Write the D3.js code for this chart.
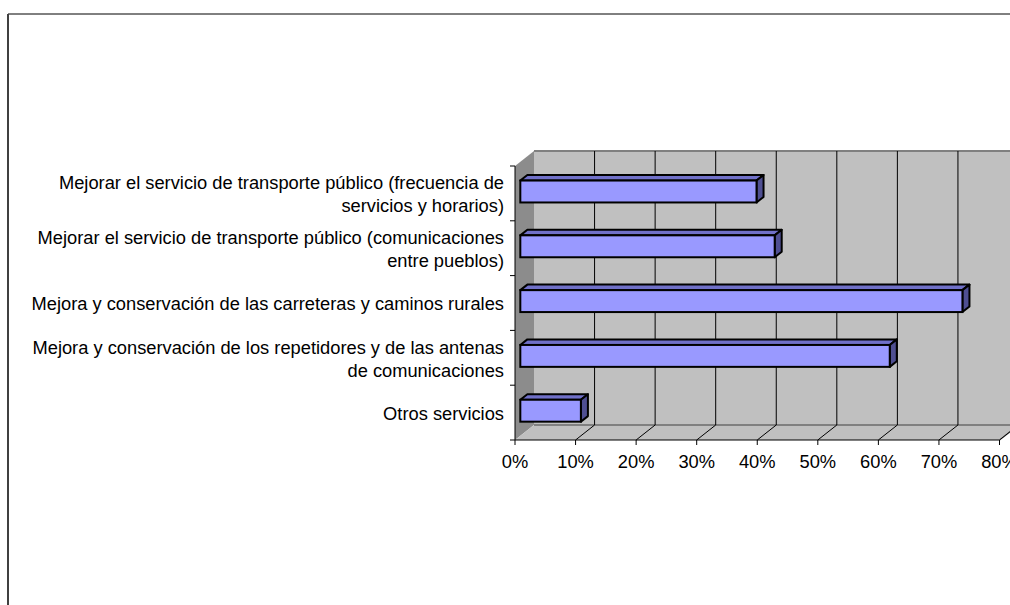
<!DOCTYPE html>
<html><head><meta charset="utf-8">
<script src="https://cdn.jsdelivr.net/npm/d3@7"></script>
<style>
body{margin:0;background:#fff;overflow:hidden}
svg{display:block}
text{font-family:"Liberation Sans",Arial,sans-serif;fill:#000}
</style></head>
<body><svg id="c" width="1010" height="605"></svg>
<script>
const categories = [
  "Mejorar el servicio de transporte público (frecuencia de servicios y horarios)",
  "Mejorar el servicio de transporte público (comunicaciones entre pueblos)",
  "Mejora y conservación de las carreteras y caminos rurales",
  "Mejora y conservación de los repetidores y de las antenas de comunicaciones",
  "Otros servicios"
];
const values = [39, 42, 73, 61, 10];
const tickValues = [0, 10, 20, 30, 40, 50, 60, 70, 80];
const tickLabels = ["0%", "10%", "20%", "30%", "40%", "50%", "60%", "70%", "80%"];

const svg = d3.select("#c");
const FS = 18.3;
const DX = 19, DY = -15;      // depth offset of the 3D box
const f0 = 0.28, f1 = 0.65;   // bar depth fractions

const x = d3.scaleLinear().domain([0, 80]).range([515, 999.5]);
const y = d3.scaleBand().domain(categories).range([166, 440])
  .paddingInner(0.6).paddingOuter(0.3).align(0.57);
const [yTop, yBot] = y.range();
const step = y.step();
const x0 = x.range()[0], x1 = x.range()[1];

// outer frame
svg.append("line").attr("x1", 8).attr("y1", 14).attr("x2", 1010).attr("y2", 14)
  .attr("stroke", "#000").attr("stroke-width", 1);
svg.append("line").attr("x1", 8).attr("y1", 14).attr("x2", 8).attr("y2", 605)
  .attr("stroke", "#404040").attr("stroke-width", 2);

// back wall
svg.append("polygon")
  .attr("points", [[x0+DX, yTop+DY],[x1+DX, yTop+DY],[x1+DX, yBot+DY],[x0+DX, yBot+DY]].join(" "))
  .attr("fill", "#C0C0C0");
// left wall
svg.append("polygon")
  .attr("points", [[x0, yTop],[x0+DX, yTop+DY],[x0+DX, yBot+DY],[x0, yBot]].join(" "))
  .attr("fill", "#8C8C8C");
// floor
svg.append("polygon")
  .attr("points", [[x0, yBot],[x1, yBot],[x1+DX, yBot+DY],[x0+DX, yBot+DY]].join(" "))
  .attr("fill", "#C0C0C0");

// wall edges
svg.append("line").attr("x1", x0+DX).attr("y1", yTop+DY).attr("x2", x1+DX).attr("y2", yTop+DY)
  .attr("stroke", "#808080").attr("stroke-width", 2);
svg.append("line").attr("x1", x0+DX).attr("y1", yBot+DY).attr("x2", x1+DX).attr("y2", yBot+DY)
  .attr("stroke", "#808080").attr("stroke-width", 2);
svg.append("line").attr("x1", x1).attr("y1", yBot).attr("x2", x1+DX).attr("y2", yBot+DY)
  .attr("stroke", "#808080").attr("stroke-width", 1.5);

// gridlines on back wall and floor
const gt = tickValues.filter(t => t > 0);
svg.append("g").selectAll("line").data(gt).join("line")
  .attr("x1", d => x(d)+DX).attr("x2", d => x(d)+DX)
  .attr("y1", yTop+DY).attr("y2", yBot+DY)
  .attr("stroke", "#000").attr("stroke-width", 1);
svg.append("g").selectAll("line").data(gt).join("line")
  .attr("x1", d => x(d)).attr("y1", yBot)
  .attr("x2", d => x(d)+DX).attr("y2", yBot+DY)
  .attr("stroke", "#000").attr("stroke-width", 1);

// bars
const bw = y.bandwidth();
const bars = svg.append("g").selectAll("g").data(categories.map((c, i) => ({c, v: values[i]}))).join("g");
bars.append("polygon") // top face
  .attr("points", d => {
    const yb = y(d.c), xa = x(0), xb = x(d.v);
    return [[xa+f0*DX, yb+f0*DY],[xb+f0*DX, yb+f0*DY],[xb+f1*DX, yb+f1*DY],[xa+f1*DX, yb+f1*DY]].join(" ");
  })
  .attr("fill", "#7070C8").attr("stroke", "#000").attr("stroke-width", 2).attr("stroke-linejoin", "round");
bars.append("polygon") // side face
  .attr("points", d => {
    const yb = y(d.c), xb = x(d.v);
    return [[xb+f0*DX, yb+f0*DY],[xb+f1*DX, yb+f1*DY],[xb+f1*DX, yb+bw+f1*DY],[xb+f0*DX, yb+bw+f0*DY]].join(" ");
  })
  .attr("fill", "#4F4F92").attr("stroke", "#000").attr("stroke-width", 2).attr("stroke-linejoin", "round");
bars.append("rect") // front face
  .attr("x", d => x(0)+f0*DX).attr("y", d => y(d.c)+f0*DY)
  .attr("width", d => x(d.v)-x(0)).attr("height", bw)
  .attr("fill", "#9999FF").attr("stroke", "#000").attr("stroke-width", 2);

// left (category) axis
svg.append("line").attr("x1", x0).attr("y1", yTop).attr("x2", x0).attr("y2", yBot)
  .attr("stroke", "#000").attr("stroke-width", 1);
svg.append("g").selectAll("line").data(d3.range(categories.length+1)).join("line")
  .attr("x1", x0-5).attr("x2", x0).attr("y1", k => yTop+k*step).attr("y2", k => yTop+k*step)
  .attr("stroke", "#000").attr("stroke-width", 1);

// bottom (value) axis
svg.append("line").attr("x1", x0).attr("y1", yBot).attr("x2", x1).attr("y2", yBot)
  .attr("stroke", "#000").attr("stroke-width", 1);
svg.append("g").selectAll("line").data(tickValues).join("line")
  .attr("x1", d => x(d)).attr("x2", d => x(d)).attr("y1", yBot).attr("y2", yBot+5)
  .attr("stroke", "#000").attr("stroke-width", 1);
svg.append("g").selectAll("text").data(tickValues).join("text")
  .attr("x", d => x(d)).attr("y", yBot+28)
  .attr("text-anchor", "middle").attr("font-size", FS)
  .text((d, i) => tickLabels[i]);

// category labels with wrapping
const maxW = 488, lh = FS*1.25;
const lab = svg.append("g");
categories.forEach((c, k) => {
  const t = lab.append("text").attr("text-anchor", "end").attr("font-size", FS);
  const words = c.split(" ");
  const lines = [];
  let cur = [];
  const probe = t.append("tspan");
  words.forEach(w => {
    const test = cur.concat([w]).join(" ");
    probe.text(test);
    if (probe.node().getComputedTextLength() > maxW && cur.length) {
      lines.push(cur.join(" ")); cur = [w];
    } else cur.push(w);
  });
  lines.push(cur.join(" "));
  probe.remove();
  const cy = yTop + (k+0.5)*step + 1;
  lines.forEach((ln, j) => {
    t.append("tspan").attr("x", 504)
      .attr("y", cy + (j - (lines.length-1)/2)*lh + FS*0.35)
      .text(ln);
  });
});
</script>
</body></html>
